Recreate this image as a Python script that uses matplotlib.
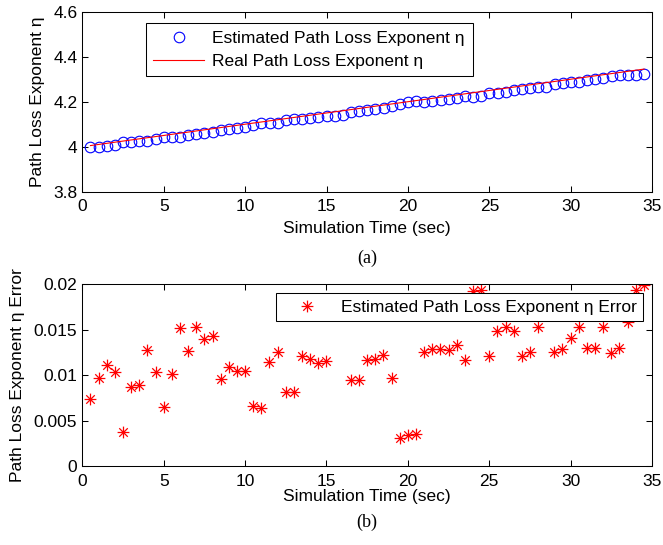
import matplotlib
matplotlib.use("Agg")
import matplotlib.pyplot as plt
from matplotlib.path import Path
from matplotlib.ticker import FuncFormatter

# ---------------- data ----------------
time_sec = [0.5, 1.0, 1.5, 2.0, 2.5, 3.0, 3.5, 4.0, 4.5, 5.0, 5.5, 6.0, 6.5, 7.0,
            7.5, 8.0, 8.5, 9.0, 9.5, 10.0, 10.5, 11.0, 11.5, 12.0, 12.5, 13.0,
            13.5, 14.0, 14.5, 15.0, 15.5, 16.0, 16.5, 17.0, 17.5, 18.0, 18.5,
            19.0, 19.5, 20.0, 20.5, 21.0, 21.5, 22.0, 22.5, 23.0, 23.5, 24.0,
            24.5, 25.0, 25.5, 26.0, 26.5, 27.0, 27.5, 28.0, 28.5, 29.0, 29.5,
            30.0, 30.5, 31.0, 31.5, 32.0, 32.5, 33.0, 33.5, 34.0, 34.5]

estimated_eta = [3.9976, 4.0003, 4.0039, 4.0096, 4.0213, 4.0213, 4.0261, 4.0272,
                 4.0347, 4.0435, 4.0449, 4.0448, 4.0523, 4.0547, 4.0610, 4.0657,
                 4.0754, 4.0791, 4.0845, 4.0895, 4.0984, 4.1036, 4.1036, 4.1075,
                 4.1168, 4.1218, 4.1229, 4.1282, 4.1337, 4.1384, 4.1375, 4.1428,
                 4.1555, 4.1605, 4.1633, 4.1682, 4.1728, 4.1803, 4.1919, 4.1966,
                 4.2015, 4.1974, 4.2021, 4.2071, 4.2122, 4.2167, 4.2233, 4.2207,
                 4.2256, 4.2379, 4.2401, 4.2447, 4.2501, 4.2579, 4.2624, 4.2647,
                 4.2675, 4.2775, 4.2821, 4.2859, 4.2897, 4.2970, 4.3020, 4.3047,
                 4.3126, 4.3170, 4.3192, 4.3206, 4.3251]

real_time = [0.5, 34.5]
real_eta = [4.005, 4.345]

eta_error = [0.0074, 0.0097, 0.0111, 0.0104, 0.0037, 0.0087, 0.0089, 0.0128,
             0.0103, 0.0065, 0.0101, 0.0152, 0.0127, 0.0153, 0.0140, 0.0143,
             0.0096, 0.0109, 0.0105, 0.0105, 0.0066, 0.0064, 0.0114, 0.0125,
             0.0082, 0.0082, 0.0121, 0.0118, 0.0113, 0.0116, 0.0175, 0.0172,
             0.0095, 0.0095, 0.0117, 0.0118, 0.0122, 0.0097, 0.0031, 0.0034,
             0.0035, 0.0126, 0.0129, 0.0129, 0.0128, 0.0133, 0.0117, 0.0193,
             0.0194, 0.0121, 0.0149, 0.0153, 0.0149, 0.0121, 0.0126, 0.0153,
             0.0175, 0.0125, 0.0129, 0.0141, 0.0153, 0.0130, 0.0130, 0.0153,
             0.0124, 0.0130, 0.0158, 0.0194, 0.0199]

xticks = [0, 5, 10, 15, 20, 25, 30, 35]
yticks_a = [3.8, 4.0, 4.2, 4.4, 4.6]
yticks_b = [0, 0.005, 0.01, 0.015, 0.02]

# ---------------- style ----------------
plt.rcParams['font.family'] = ['Liberation Sans', 'DejaVu Sans']
plt.rcParams['font.size'] = 12.5
plt.rcParams['axes.linewidth'] = 0.75

W, H = 663, 545
fig = plt.figure(figsize=(W / 100, H / 100), dpi=100)

def frac_axes(left, top, right, bottom):
    return [left / W, 1 - bottom / H, (right - left) / W, (bottom - top) / H]

ax1 = fig.add_axes(frac_axes(82.3, 11.7, 652.3, 191.7))
ax2 = fig.add_axes(frac_axes(82.3, 284.3, 652.0, 466.0))

gfmt = FuncFormatter(lambda v, p: ('%g' % round(v, 6)))

for ax in (ax1, ax2):
    ax.tick_params(direction='in', top=True, right=True, length=4, width=0.75,
                   labelsize=12.5, colors='black')
    ax.tick_params(axis='x', pad=5.5)
    ax.tick_params(axis='y', pad=3.6)
    ax.set_xlim(0, 35)
    ax.set_xticks(xticks)
    ax.xaxis.set_major_formatter(gfmt)
    ax.yaxis.set_major_formatter(gfmt)

# asterisk marker like MATLAB '*'
d = 0.72
ast = Path([(-1, 0), (1, 0), (0, -1), (0, 1), (-d, -d), (d, d), (-d, d), (d, -d)],
           [Path.MOVETO, Path.LINETO] * 4)

# ---- panel (a) ----
ax1.plot(time_sec, estimated_eta, linestyle='none', marker='o', markersize=7.6,
         markerfacecolor='none', markeredgecolor='#0000ff', markeredgewidth=0.8,
         label='Estimated Path Loss Exponent η')
ax1.plot(real_time, real_eta, color='#ff0000', linewidth=0.8,
         label='Real Path Loss Exponent η')
ax1.set_ylim(3.8, 4.6)
ax1.set_yticks(yticks_a)
ax1.set_xlabel('Simulation Time (sec)', labelpad=5)
ax1.set_ylabel('Path Loss Exponent η', labelpad=6)
leg1 = ax1.legend(loc='upper left', bbox_to_anchor=(0.111, 0.939), borderaxespad=0,
                  fancybox=False, edgecolor='black', framealpha=1, handlelength=2.9,
                  handletextpad=0.5, borderpad=0.45, labelspacing=0.45, fontsize=12.5)
leg1.get_frame().set_linewidth(0.75)

# ---- panel (b) ----
ax2.plot(time_sec, eta_error, linestyle='none', marker=ast, markersize=8.5,
         markerfacecolor='none', markeredgecolor='#ff0000', markeredgewidth=0.9,
         label='Estimated Path Loss Exponent η Error')
ax2.set_ylim(0, 0.02)
ax2.set_yticks(yticks_b)
ax2.set_xlabel('Simulation Time (sec)', labelpad=0)
ax2.set_ylabel('Path Loss Exponent η Error', labelpad=6)
leg2 = ax2.legend(loc='upper right', bbox_to_anchor=(0.984, 0.950), borderaxespad=0,
                  fancybox=False, edgecolor='black', framealpha=1, handlelength=2.9,
                  handletextpad=0.5, borderpad=0.35, fontsize=12.5)
leg2.get_frame().set_linewidth(0.75)

fig.text(367 / W, 1 - 258 / H, '(a)', ha='center', va='center',
         family='Liberation Serif', fontsize=13)
fig.text(367 / W, 1 - 522 / H, '(b)', ha='center', va='center',
         family='Liberation Serif', fontsize=13)

fig.savefig('out.png', dpi=100)
